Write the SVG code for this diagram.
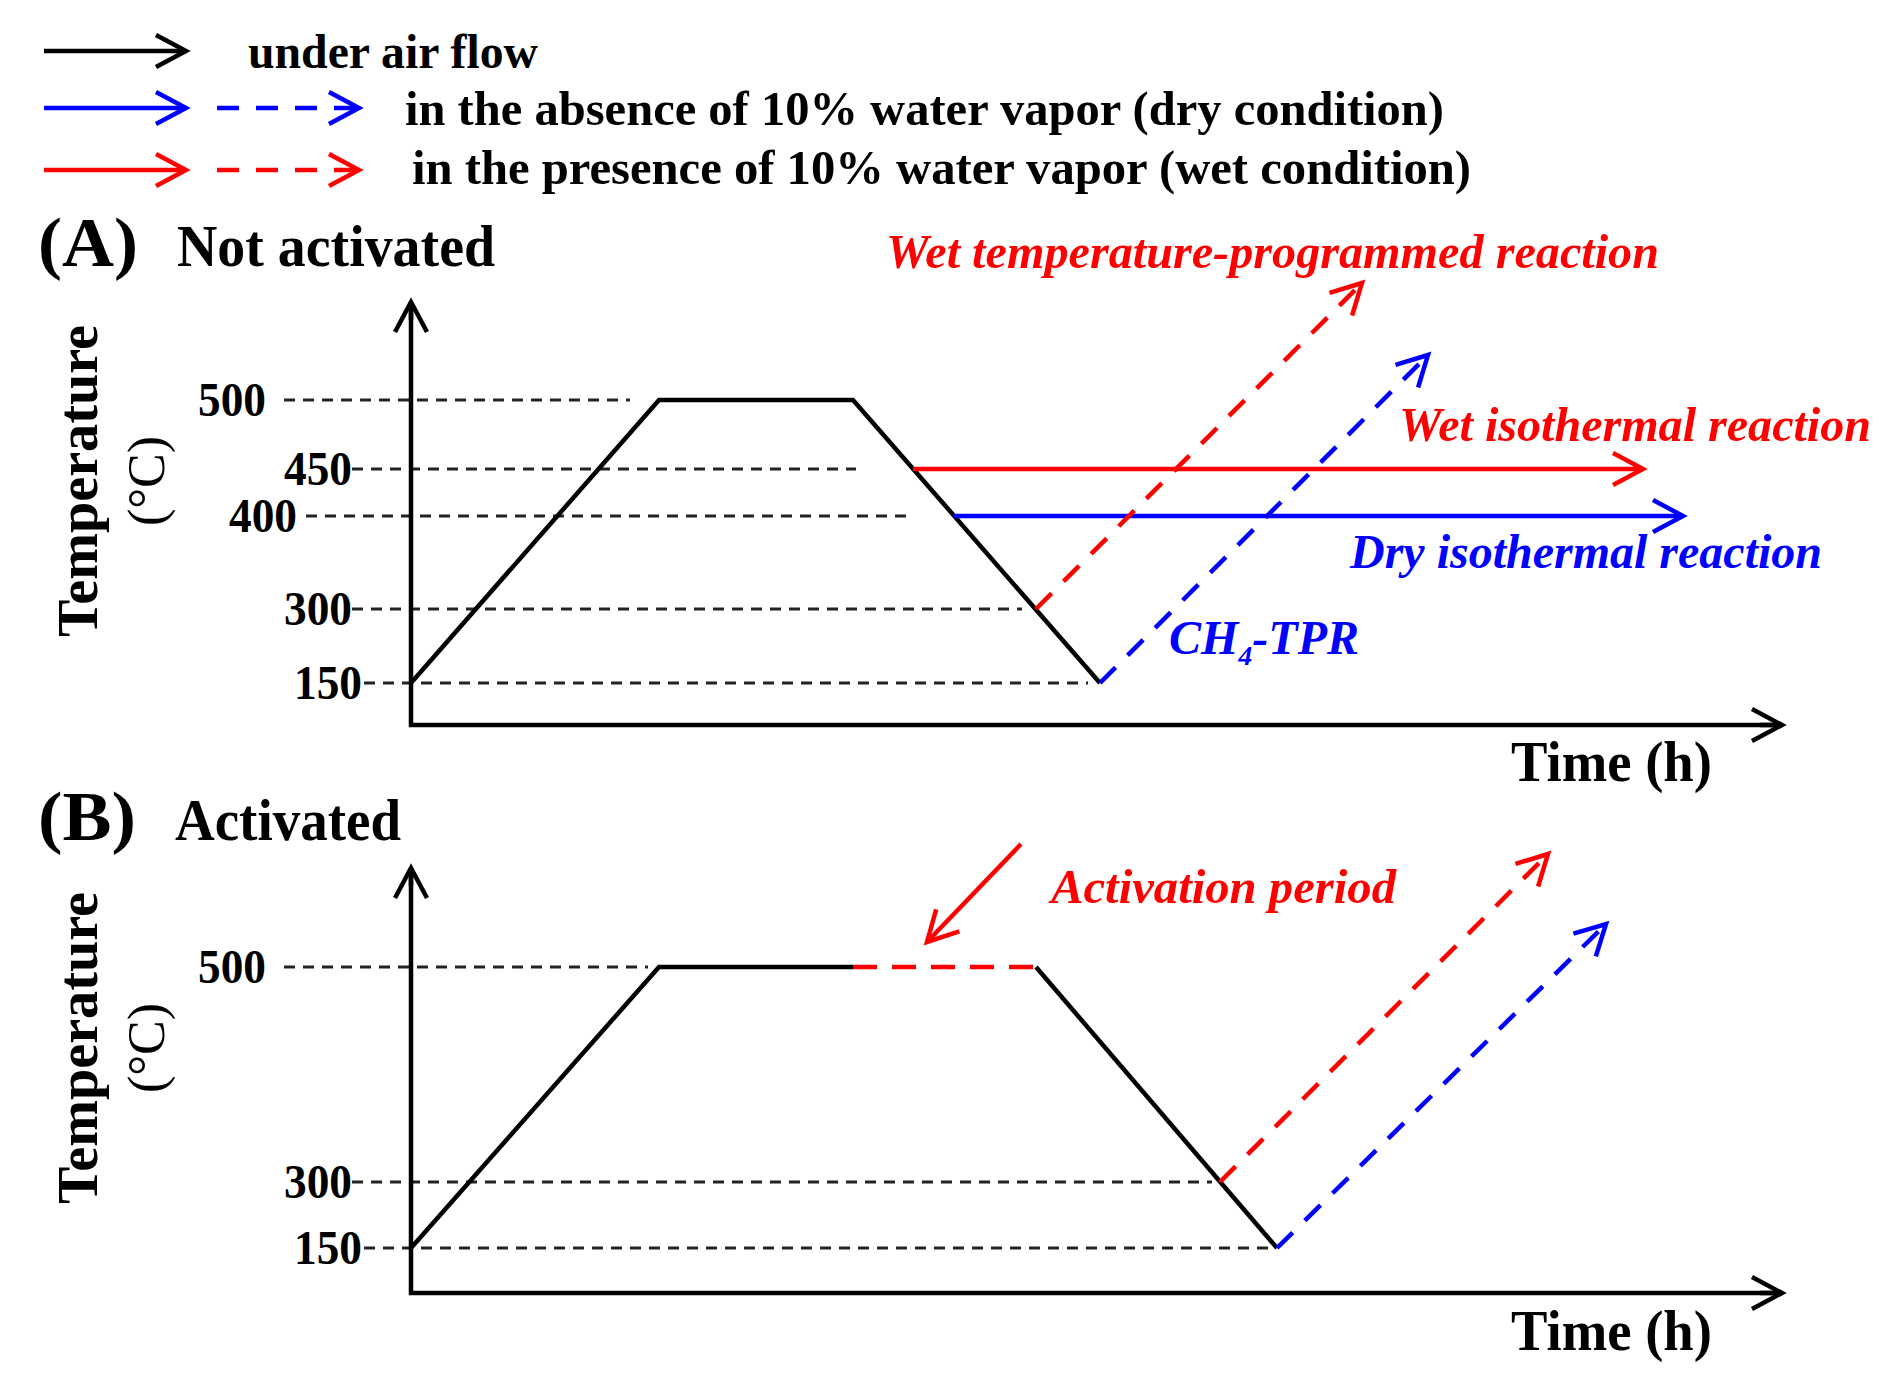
<svg xmlns="http://www.w3.org/2000/svg" width="1895" height="1381" viewBox="0 0 1895 1381">
<style>
text{font-family:"Liberation Serif","Times New Roman",serif;font-weight:bold;fill:#000}
.lg{font-size:48px}
.tick{font-size:48px;text-anchor:end}
.big{font-size:70px}
.ttl{font-size:60px}
.ax{font-size:57px}
.unit{font-size:52px;font-weight:normal}
.lab{font-size:48px;font-style:italic}
.r{fill:#FF0000}
.b{fill:#0000FF}
.k{stroke:#000;stroke-width:4.5;fill:none}
.rs{stroke:#FF0000;stroke-width:4.5;fill:none}
.bs{stroke:#0000FF;stroke-width:4.5;fill:none}
.dash{stroke-dasharray:22 17}
.guide{stroke:#222;stroke-width:2.8;stroke-dasharray:11 8;fill:none}
</style>
<defs>
<marker id="ak" markerUnits="userSpaceOnUse" viewBox="-40 -24 50 48" markerWidth="50" markerHeight="48" refX="0" refY="0" orient="auto">
<path d="M-30,-16 L0,0 L-30,16" fill="none" stroke="#000" stroke-width="4.5"/>
</marker>
<marker id="ar" markerUnits="userSpaceOnUse" viewBox="-40 -24 50 48" markerWidth="50" markerHeight="48" refX="0" refY="0" orient="auto">
<path d="M-30,-16 L0,0 L-30,16" fill="none" stroke="#FF0000" stroke-width="4.5"/>
</marker>
<marker id="ab" markerUnits="userSpaceOnUse" viewBox="-40 -24 50 48" markerWidth="50" markerHeight="48" refX="0" refY="0" orient="auto">
<path d="M-30,-16 L0,0 L-30,16" fill="none" stroke="#0000FF" stroke-width="4.5"/>
</marker>
</defs>
<rect width="1895" height="1381" fill="#fff"/>

<g id="legend">
<g id="legend-air">
<line class="k" x1="44" y1="51" x2="186" y2="51" marker-end="url(#ak)"/>
<text class="lg" x="248" y="68" textLength="290" lengthAdjust="spacingAndGlyphs">under air flow</text>
</g>
<g id="legend-dry">
<line class="bs" x1="44" y1="108" x2="186" y2="108" marker-end="url(#ab)"/>
<line class="bs dash" x1="217" y1="108" x2="359" y2="108" marker-end="url(#ab)"/>
<text class="lg" x="405" y="125" textLength="1039" lengthAdjust="spacingAndGlyphs">in the absence of 10% water vapor (dry condition)</text>
</g>
<g id="legend-wet">
<line class="rs" x1="44" y1="170" x2="186" y2="170" marker-end="url(#ar)"/>
<line class="rs dash" x1="217" y1="170" x2="359" y2="170" marker-end="url(#ar)"/>
<text class="lg" x="412" y="184" textLength="1059" lengthAdjust="spacingAndGlyphs">in the presence of 10% water vapor (wet condition)</text>
</g>
</g>

<g id="panelA">
<g id="panelA-title">
<text class="big" x="38" y="266" textLength="100" lengthAdjust="spacingAndGlyphs">(A)</text>
<text class="ttl" x="177" y="266" textLength="318" lengthAdjust="spacingAndGlyphs">Not activated</text>
</g>
<g id="panelA-ylabel">
<text class="ax" transform="translate(97,481) rotate(-90)" text-anchor="middle" textLength="312" lengthAdjust="spacingAndGlyphs">Temperature</text>
<text class="unit" transform="translate(164,481) rotate(-90)" text-anchor="middle">(°C)</text>
</g>
<g id="panelA-ticks">
<text class="tick" x="266" y="416" textLength="68" lengthAdjust="spacingAndGlyphs">500</text>
<text class="tick" x="352" y="485" textLength="68" lengthAdjust="spacingAndGlyphs">450</text>
<text class="tick" x="297" y="532" textLength="68" lengthAdjust="spacingAndGlyphs">400</text>
<text class="tick" x="352" y="625" textLength="68" lengthAdjust="spacingAndGlyphs">300</text>
<text class="tick" x="362" y="699" textLength="68" lengthAdjust="spacingAndGlyphs">150</text>
</g>
<g id="panelA-guides">
<line class="guide" x1="284" y1="400" x2="630" y2="400"/>
<line class="guide" x1="352" y1="469" x2="856" y2="469"/>
<line class="guide" x1="306" y1="516" x2="912" y2="516"/>
<line class="guide" x1="352" y1="609" x2="1022" y2="609"/>
<line class="guide" x1="364" y1="683" x2="1088" y2="683"/>
</g>
<g id="panelA-axes">
<polyline class="k" points="411,304 411,725 1781,725"/>
<line class="k" x1="411" y1="320" x2="411" y2="302" marker-end="url(#ak)"/>
<line class="k" x1="1760" y1="725" x2="1782" y2="725" marker-end="url(#ak)"/>
<text class="ax" x="1511" y="781" textLength="201" lengthAdjust="spacingAndGlyphs">Time (h)</text>
</g>
<g id="panelA-connectors">
<polyline class="k" points="411,683 659,400 853,400 1100,683"/>
<line class="rs" x1="913" y1="469" x2="1643" y2="469" marker-end="url(#ar)"/>
<line class="bs" x1="954" y1="516" x2="1683" y2="516" marker-end="url(#ab)"/>
<line class="rs dash" x1="1036" y1="609" x2="1362" y2="283" marker-end="url(#ar)"/>
<line class="bs dash" x1="1100" y1="683" x2="1428" y2="355" marker-end="url(#ab)"/>
</g>
<g id="panelA-labels">
<text class="lab r" x="886" y="268" textLength="773" lengthAdjust="spacingAndGlyphs">Wet temperature-programmed reaction</text>
<text class="lab r" x="1399" y="441" textLength="472" lengthAdjust="spacingAndGlyphs">Wet isothermal reaction</text>
<text class="lab b" x="1350" y="568" textLength="472" lengthAdjust="spacingAndGlyphs">Dry isothermal reaction</text>
<text class="lab b" x="1169" y="654">CH<tspan font-size="28" dy="11">4</tspan><tspan dy="-11">-TPR</tspan></text>
</g>
</g>

<g id="panelB">
<g id="panelB-title">
<text class="big" x="38" y="840" textLength="98" lengthAdjust="spacingAndGlyphs">(B)</text>
<text class="ttl" x="175" y="840" textLength="226" lengthAdjust="spacingAndGlyphs">Activated</text>
</g>
<g id="panelB-ylabel">
<text class="ax" transform="translate(97,1048) rotate(-90)" text-anchor="middle" textLength="312" lengthAdjust="spacingAndGlyphs">Temperature</text>
<text class="unit" transform="translate(164,1048) rotate(-90)" text-anchor="middle">(°C)</text>
</g>
<g id="panelB-ticks">
<text class="tick" x="266" y="983" textLength="68" lengthAdjust="spacingAndGlyphs">500</text>
<text class="tick" x="352" y="1198" textLength="68" lengthAdjust="spacingAndGlyphs">300</text>
<text class="tick" x="362" y="1264" textLength="68" lengthAdjust="spacingAndGlyphs">150</text>
</g>
<g id="panelB-guides">
<line class="guide" x1="284" y1="967" x2="648" y2="967"/>
<line class="guide" x1="352" y1="1182" x2="1212" y2="1182"/>
<line class="guide" x1="364" y1="1248" x2="1268" y2="1248"/>
</g>
<g id="panelB-axes">
<polyline class="k" points="411,870 411,1293 1781,1293"/>
<line class="k" x1="411" y1="886" x2="411" y2="868" marker-end="url(#ak)"/>
<line class="k" x1="1760" y1="1293" x2="1782" y2="1293" marker-end="url(#ak)"/>
<text class="ax" x="1511" y="1350" textLength="201" lengthAdjust="spacingAndGlyphs">Time (h)</text>
</g>
<g id="panelB-connectors">
<polyline class="k" points="411,1248 659,967 853,967"/>
<line class="rs" x1="853" y1="967" x2="1036" y2="967" stroke-dasharray="24 15"/>
<line class="k" x1="1036" y1="967" x2="1277" y2="1248"/>
<line class="rs dash" x1="1220" y1="1182" x2="1548" y2="854" marker-end="url(#ar)"/>
<line class="bs dash" x1="1277" y1="1248" x2="1606" y2="924" marker-end="url(#ab)"/>
<line class="rs" x1="1021" y1="844" x2="927" y2="942" marker-end="url(#ar)"/>
</g>
<g id="panelB-labels">
<text class="lab r" x="1051" y="903" textLength="345" lengthAdjust="spacingAndGlyphs">Activation period</text>
</g>
</g>
</svg>
